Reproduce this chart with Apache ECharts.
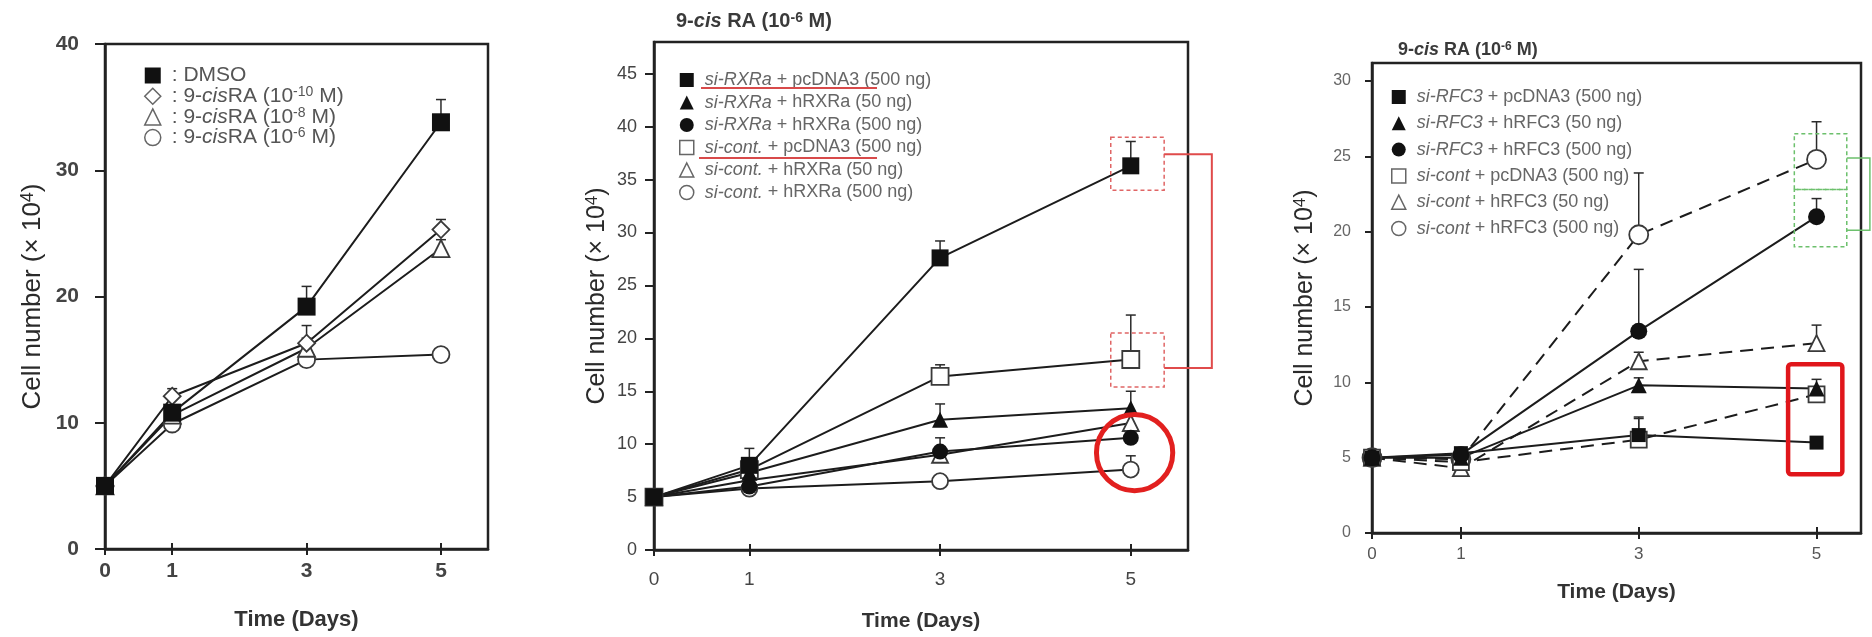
<!DOCTYPE html>
<html><head><meta charset="utf-8">
<script src="https://cdn.jsdelivr.net/npm/echarts@6/dist/echarts.min.js"></script>
<style>html,body{margin:0;padding:0;background:#fff}#c{width:1872px;height:637px}</style>
</head><body><div id="c"></div>
<script>
// ---------- shared ----------
const days = [0, 1, 3, 5];
const xTicks = [0, 1, 3, 5];

// ---------- panel A ----------
const aNames = [': DMSO', ': 9-cisRA (10⁻¹⁰ M)', ': 9-cisRA (10⁻⁸ M)', ': 9-cisRA (10⁻⁶ M)'];
const aDMSO = [5.0, 10.8, 19.2, 33.8];
const aRA10 = [5.0, 12.1, 16.3, 25.3];
const aRA8  = [5.0, 10.6, 15.9, 23.8];
const aRA6  = [5.0, 9.9, 15.0, 15.4];
const aErrDMSO = [0, 0.5, 1.6, 1.8];
const aErrRA10 = [0, 0.6, 1.4, 0.8];
const aErrRA8  = [0, 0.4, 0.8, 0.7];
const aErrRA6  = [0, 0.4, 0.5, 0.4];
const aYTicks = [0, 10, 20, 30, 40];

// ---------- panel B ----------
const bNames = ['si-RXRa + pcDNA3 (500 ng)', 'si-RXRa + hRXRa (50 ng)', 'si-RXRa + hRXRa (500 ng)',
                'si-cont. + pcDNA3 (500 ng)', 'si-cont. + hRXRa (50 ng)', 'si-cont. + hRXRa (500 ng)'];
const bRxrPc   = [5.0, 8.0, 27.6, 36.3];
const bRxrH50  = [5.0, 7.3, 12.3, 13.4];
const bRxrH500 = [5.0, 6.0, 9.3, 10.6];
const bConPc   = [5.0, 7.6, 16.4, 18.0];
const bConH50  = [5.0, 6.6, 9.0, 12.0];
const bConH500 = [5.0, 5.8, 6.5, 7.6];
const bErrRxrPc   = [0, 1.6, 1.6, 2.3];
const bErrRxrH50  = [0, 0.6, 1.5, 1.6];
const bErrRxrH500 = [0, 0.4, 1.3, 0.8];
const bErrConPc   = [0, 0.5, 1.1, 4.2];
const bErrConH50  = [0, 0.5, 0.6, 0.8];
const bErrConH500 = [0, 0.3, 0.4, 1.3];
const bYTicks = [0, 5, 10, 15, 20, 25, 30, 35, 40, 45];

// ---------- panel C ----------
const cNames = ['si-RFC3 + pcDNA3 (500 ng)', 'si-RFC3 + hRFC3 (50 ng)', 'si-RFC3 + hRFC3 (500 ng)',
                'si-cont + pcDNA3 (500 ng)', 'si-cont + hRFC3 (50 ng)', 'si-cont + hRFC3 (500 ng)'];
const cRfcPc   = [5.0, 5.3, 6.5, 6.0];
const cRfcH50  = [5.0, 5.0, 9.8, 9.6];
const cRfcH500 = [5.0, 5.2, 13.4, 21.0];
const cConPc   = [5.0, 4.7, 6.2, 9.2];
const cConH50  = [5.0, 4.3, 11.4, 12.6];
const cConH500 = [5.0, 4.9, 19.8, 24.8];
const cErrRfcPc   = [0, 0.3, 1.2, 0.2];
const cErrRfcH50  = [0, 0.3, 0.5, 0.6];
const cErrRfcH500 = [0, 0.3, 4.1, 1.2];
const cErrConPc   = [0, 0.4, 1.4, 0.5];
const cErrConH50  = [0, 0.6, 0.6, 1.2];
const cErrConH500 = [0, 0.4, 4.1, 2.5];
const cYTicks = [0, 5, 10, 15, 20, 25, 30];

// ---------- annotations (data units) ----------
const bDashBoxes = [[4.79, 34.0, 5.35, 39.0], [4.79, 15.4, 5.35, 20.5]];
const bBracket = [[5.35, 37.4, 5.85, 17.2]];
const bRing = [[5.04, 9.2, 0.40]];
const cDashBoxes = [[4.75, 22.8, 5.34, 26.5], [4.75, 19.0, 5.34, 22.8]];
const cBracket = [[5.34, 24.9, 5.6, 20.1]];
const cRedBox = [[4.68, 3.9, 5.29, 11.2]];

// ---------- helpers ----------
const FONT = '"Liberation Sans", Arial, sans-serif';
const INK = '#1c1c1c';
const SUP = {'⁻': '-', '⁰': '0', '¹': '1', '²': '2', '³': '3', '⁴': '4', '⁵': '5', '⁶': '6', '⁷': '7', '⁸': '8', '⁹': '9'};
const pts = v => days.map((d, i) => [d, v[i]]);
const errPts = (v, e) => days.map((d, i) => [d, v[i], e[i]]).filter(r => r[2] > 0);

function richText(name, lead) {
  const parts = name.split(/(si-[A-Za-z0-9.]+|cis|[⁻⁰¹²³⁴⁵⁶⁷⁸⁹]+)/);
  let s = lead ? '{sp| }' : '';
  parts.forEach(p => {
    if (!p) return;
    if (/^[⁻⁰¹²³⁴⁵⁶⁷⁸⁹]+$/.test(p)) s += '{s|' + p.split('').map(c => SUP[c]).join('') + '}';
    else if (p === 'cis' || /^si-/.test(p)) s += '{i|' + p + '}';
    else s += '{n|' + p + '}';
  });
  return s;
}
const legendFmt = name => richText(name, true);
function richFor(size, color, pad, weight) {
  const lh = size + 1;
  return {
    sp: {width: pad, fontSize: size, lineHeight: lh},
    n: {fontFamily: FONT, fontSize: size, color, lineHeight: lh, fontWeight: weight || 'normal'},
    i: {fontFamily: FONT, fontSize: size, color, lineHeight: lh, fontStyle: 'italic', fontWeight: weight || 'normal'},
    s: {fontFamily: FONT, fontSize: Math.round(size * 0.68), color, lineHeight: Math.round(size * 0.68),
        verticalAlign: 'top', fontWeight: weight || 'normal'}
  };
}

const filled = {color: '#111', borderColor: '#111', borderWidth: 0};
const hollow = {color: '#fff', borderColor: '#3a3a3a', borderWidth: 1.8};
const hollowLeg = {color: '#fff', borderColor: '#666', borderWidth: 1.5};

function lineSeries(name, data, xi, yi, symbol, size, item, dashed) {
  return {
    name, type: 'line', xAxisIndex: xi, yAxisIndex: yi, data: pts(data),
    symbol, symbolSize: size, showAllSymbol: true,
    lineStyle: {color: INK, width: 2, type: dashed ? [13, 8] : 'solid'},
    itemStyle: item, emphasis: {disabled: true}, z: 3, animation: false
  };
}
function errSeries(v, e, xi, yi) {
  return {
    type: 'custom', xAxisIndex: xi, yAxisIndex: yi, data: errPts(v, e), z: 2, silent: true, animation: false,
    renderItem: (p, api) => {
      const x = api.value(0), y = api.value(1), er = api.value(2);
      const a = api.coord([x, y]), b = api.coord([x, y + er]);
      return {type: 'group', children: [
        {type: 'line', shape: {x1: a[0], y1: a[1], x2: b[0], y2: b[1]}, style: {stroke: '#2a2a2a', lineWidth: 1.5}},
        {type: 'line', shape: {x1: b[0] - 5, y1: b[1], x2: b[0] + 5, y2: b[1]}, style: {stroke: '#2a2a2a', lineWidth: 1.5}}
      ]};
    }
  };
}
function boxSeries(data, xi, yi, style, r) {
  return {
    type: 'custom', xAxisIndex: xi, yAxisIndex: yi, data, z: 5, silent: true, clip: false, animation: false,
    renderItem: (p, api) => {
      const a = api.coord([api.value(0), api.value(3)]);
      const b = api.coord([api.value(2), api.value(1)]);
      return {type: 'rect', shape: {x: a[0], y: a[1], width: b[0] - a[0], height: b[1] - a[1], r: r || 0},
              style: Object.assign({fill: 'none'}, style)};
    }
  };
}
function ringSeries(data, xi, yi, style) {
  return {
    type: 'custom', xAxisIndex: xi, yAxisIndex: yi, data, z: 5, silent: true, clip: false, animation: false,
    renderItem: (p, api) => {
      const c = api.coord([api.value(0), api.value(1)]);
      const r = api.size([api.value(2), 0])[0];
      return {type: 'circle', shape: {cx: c[0], cy: c[1], r}, style: Object.assign({fill: 'none'}, style)};
    }
  };
}
// bracket: [xStart, yTop, xOuter, yBottom]
function bracketSeries(data, xi, yi, color, w) {
  return {
    type: 'custom', xAxisIndex: xi, yAxisIndex: yi, data, z: 5, silent: true, clip: false, animation: false,
    renderItem: (p, api) => {
      const x0 = api.value(0), y0 = api.value(1), x1 = api.value(2), y1 = api.value(3);
      const pts2 = [[x0, y0], [x1, y0], [x1, y1], [x0, y1]].map(q => api.coord(q));
      return {type: 'polyline', shape: {points: pts2}, style: {stroke: color, lineWidth: w, fill: 'none'}};
    }
  };
}
function xAxes(g, max, lbl, nameSize, nameGap) {
  const tickStyle = {color: '#222', width: 2};
  return [
    {type: 'value', gridIndex: g, min: 0, max, position: 'bottom',
     name: 'Time (Days)', nameLocation: 'middle', nameGap,
     nameTextStyle: {fontFamily: FONT, fontSize: nameSize, fontWeight: 'bold', color: '#333'},
     axisLine: {show: true, onZero: false, lineStyle: {color: '#222', width: 2.5}},
     axisTick: {show: true, customValues: xTicks, length: 6, lineStyle: tickStyle},
     axisLabel: Object.assign({customValues: xTicks, fontFamily: FONT}, lbl),
     splitLine: {show: false}},
    {type: 'value', gridIndex: g, min: 0, max, position: 'bottom',
     axisLine: {show: false}, axisTick: {show: true, inside: true, customValues: xTicks, length: 6, lineStyle: tickStyle},
     axisLabel: {show: false}, splitLine: {show: false}}
  ];
}
const yName = 'Cell number (× 10⁴)';
function yAxis(g, max, ticks, lbl, tickLen, nameSize, nameGap, nameColor) {
  return {
    type: 'value', gridIndex: g, min: 0, max,
    name: richText(yName, false), nameLocation: 'middle', nameGap, nameRotate: 90,
    nameTextStyle: {rich: richFor(nameSize, nameColor, 0)},
    axisLine: {show: true, onZero: false, lineStyle: {color: '#222', width: 2.5}},
    axisTick: {show: true, customValues: ticks, length: tickLen, lineStyle: {color: '#222', width: 2}},
    axisLabel: Object.assign({customValues: ticks, fontFamily: FONT}, lbl),
    splitLine: {show: false}
  };
}
const frame = {show: true, borderColor: '#222', borderWidth: 2.5, backgroundColor: 'transparent'};
const titleText = richText('9-cis RA (10⁻⁶ M)', false);

const option = {
  backgroundColor: '#fff',
  animation: false,
  grid: [
    Object.assign({left: 105, top: 44, width: 383, height: 505}, frame),
    Object.assign({left: 654, top: 42, width: 534, height: 508}, frame),
    Object.assign({left: 1372, top: 63, width: 489, height: 470}, frame)
  ],
  xAxis: [
    ...xAxes(0, 5.7, {fontSize: 21, fontWeight: 'bold', color: '#444', margin: 12}, 22, 60),
    ...xAxes(1, 5.6, {fontSize: 19, color: '#444', margin: 20}, 21, 61),
    ...xAxes(2, 5.5, {fontSize: 17, color: '#555', margin: 13}, 21, 49)
  ],
  yAxis: [
    yAxis(0, 40, aYTicks, {fontSize: 21, fontWeight: 'bold', color: '#444', margin: 26}, 10, 26, 59, '#2a2a2a'),
    yAxis(1, 48, bYTicks, {fontSize: 18, color: '#444', margin: 17}, 9, 25, 44, '#2a2a2a'),
    yAxis(2, 31.2, cYTicks, {fontSize: 16, color: '#666', margin: 21}, 7, 25, 54, '#2a2a2a')
  ],
  title: [
    {text: titleText, left: 671, top: 6, textStyle: {rich: richFor(20, '#3a3a3a', 0, 'bold')}},
    {text: titleText, left: 1393, top: 36, textStyle: {rich: richFor(18, '#3a3a3a', 0, 'bold')}}
  ],
  legend: [
    {orient: 'vertical', left: 139, top: 60, itemWidth: 16, itemHeight: 16, itemGap: -0.8,
     selectedMode: false, formatter: legendFmt, textStyle: {rich: richFor(21, '#555', 6)},
     data: [
       {name: aNames[0], icon: 'rect', itemStyle: filled},
       {name: aNames[1], icon: 'diamond', itemStyle: hollowLeg},
       {name: aNames[2], icon: 'triangle', itemStyle: hollowLeg},
       {name: aNames[3], icon: 'circle', itemStyle: hollowLeg}
     ]},
    {orient: 'vertical', left: 674, top: 66, itemWidth: 14, itemHeight: 14, itemGap: 4.5,
     selectedMode: false, formatter: legendFmt, textStyle: {rich: richFor(18, '#666', 6)},
     data: [
       {name: bNames[0], icon: 'rect', itemStyle: filled},
       {name: bNames[1], icon: 'triangle', itemStyle: filled},
       {name: bNames[2], icon: 'circle', itemStyle: filled},
       {name: bNames[3], icon: 'rect', itemStyle: hollowLeg},
       {name: bNames[4], icon: 'triangle', itemStyle: hollowLeg},
       {name: bNames[5], icon: 'circle', itemStyle: hollowLeg}
     ]},
    {orient: 'vertical', left: 1386, top: 83, itemWidth: 14, itemHeight: 14, itemGap: 8.3,
     selectedMode: false, formatter: legendFmt, textStyle: {rich: richFor(18, '#666', 6)},
     data: [
       {name: cNames[0], icon: 'rect', itemStyle: filled},
       {name: cNames[1], icon: 'triangle', itemStyle: filled},
       {name: cNames[2], icon: 'circle', itemStyle: filled},
       {name: cNames[3], icon: 'rect', itemStyle: hollowLeg},
       {name: cNames[4], icon: 'triangle', itemStyle: hollowLeg},
       {name: cNames[5], icon: 'circle', itemStyle: hollowLeg}
     ]}
  ],
  graphic: [
    {type: 'line', shape: {x1: 701, y1: 88, x2: 877, y2: 88}, style: {stroke: '#d84a4a', lineWidth: 2}, z: 10},
    {type: 'line', shape: {x1: 699, y1: 158, x2: 877, y2: 158}, style: {stroke: '#d84a4a', lineWidth: 2}, z: 10}
  ],
  series: [
    // panel A
    errSeries(aDMSO, aErrDMSO, 0, 0), errSeries(aRA10, aErrRA10, 0, 0),
    errSeries(aRA8, aErrRA8, 0, 0), errSeries(aRA6, aErrRA6, 0, 0),
    lineSeries(aNames[3], aRA6, 0, 0, 'circle', 17, hollow),
    lineSeries(aNames[2], aRA8, 0, 0, 'triangle', 17, hollow),
    lineSeries(aNames[1], aRA10, 0, 0, 'diamond', 17, hollow),
    lineSeries(aNames[0], aDMSO, 0, 0, 'rect', 18, filled),
    // panel B
    errSeries(bRxrPc, bErrRxrPc, 2, 1), errSeries(bRxrH50, bErrRxrH50, 2, 1),
    errSeries(bRxrH500, bErrRxrH500, 2, 1), errSeries(bConPc, bErrConPc, 2, 1),
    errSeries(bConH50, bErrConH50, 2, 1), errSeries(bConH500, bErrConH500, 2, 1),
    lineSeries(bNames[5], bConH500, 2, 1, 'circle', 16, hollow),
    lineSeries(bNames[4], bConH50, 2, 1, 'triangle', 16, hollow),
    lineSeries(bNames[3], bConPc, 2, 1, 'rect', 17, hollow),
    lineSeries(bNames[2], bRxrH500, 2, 1, 'circle', 16, filled),
    lineSeries(bNames[1], bRxrH50, 2, 1, 'triangle', 16, filled),
    lineSeries(bNames[0], bRxrPc, 2, 1, 'rect', 17, filled),
    boxSeries(bDashBoxes, 2, 1, {stroke: '#e06565', lineWidth: 1.5, lineDash: [4, 3]}),
    bracketSeries(bBracket, 2, 1, '#e04b4b', 2),
    ringSeries(bRing, 2, 1, {stroke: '#e2201f', lineWidth: 5}),
    // panel C
    errSeries(cRfcPc, cErrRfcPc, 4, 2), errSeries(cRfcH50, cErrRfcH50, 4, 2),
    errSeries(cRfcH500, cErrRfcH500, 4, 2), errSeries(cConPc, cErrConPc, 4, 2),
    errSeries(cConH50, cErrConH50, 4, 2), errSeries(cConH500, cErrConH500, 4, 2),
    lineSeries(cNames[5], cConH500, 4, 2, 'circle', 19, hollow, true),
    lineSeries(cNames[4], cConH50, 4, 2, 'triangle', 16, hollow, true),
    lineSeries(cNames[3], cConPc, 4, 2, 'rect', 16, hollow, true),
    lineSeries(cNames[2], cRfcH500, 4, 2, 'circle', 17, filled),
    lineSeries(cNames[1], cRfcH50, 4, 2, 'triangle', 16, filled),
    lineSeries(cNames[0], cRfcPc, 4, 2, 'rect', 14, filled),
    boxSeries(cDashBoxes, 4, 2, {stroke: '#6cc06c', lineWidth: 1.5, lineDash: [4, 3]}),
    bracketSeries(cBracket, 4, 2, '#6cc06c', 1.5),
    boxSeries(cRedBox, 4, 2, {stroke: '#e0161b', lineWidth: 4.5}, 3)
  ]
};
const chart = echarts.init(document.getElementById('c'));
chart.setOption(option);
</script></body></html>
